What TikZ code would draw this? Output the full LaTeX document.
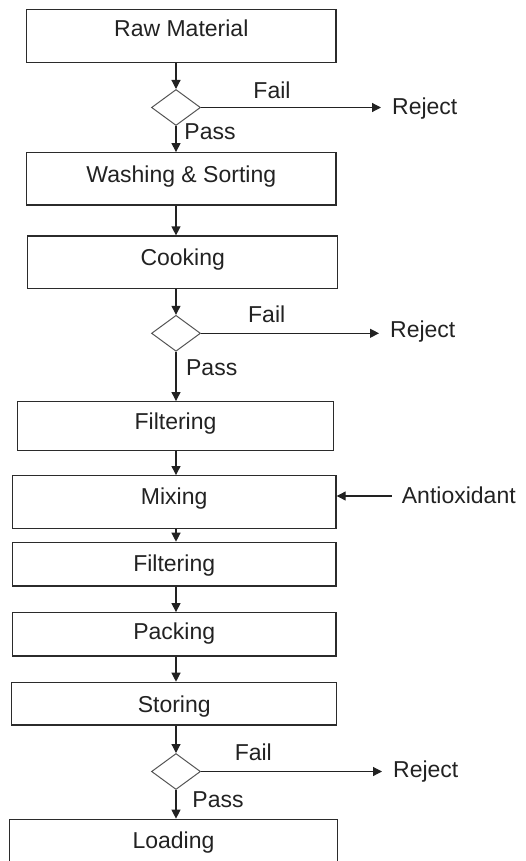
\documentclass[tikz,border=0pt]{standalone}
\usepackage{fontspec}
\setmainfont{Liberation Sans}
\usetikzlibrary{shapes.geometric,arrows.meta}
\definecolor{edge}{HTML}{2B2B2B}
\definecolor{ink}{HTML}{222222}
\definecolor{dgray}{HTML}{555555}
\begin{document}
\begin{tikzpicture}[x=1pt,y=-1pt,
  font=\fontsize{23}{27}\selectfont,
  stepbox/.style={draw=edge,line width=1.3pt,rectangle,inner sep=0pt},
  lbl/.style={text=ink,inner sep=0pt,anchor=base},
  check/.style={draw=dgray,line width=1pt,diamond,inner sep=0pt,minimum width=49pt,minimum height=36pt},
  side/.style={text=ink,inner ysep=0pt,inner xsep=11pt,anchor=base west},
  flow/.style={draw=ink,line width=1.2pt,-{Triangle[length=9pt,width=9pt]}}]
\useasboundingbox (0,0) rectangle (526,861);
\clip (0,0) rectangle (526,861);

% process boxes (centre, size) and their captions (baseline)
\node[stepbox,minimum width=309.3pt,minimum height=53pt] (b1) at (181.3,35.8) {};
\node[lbl] (t1) at (181.3,36.9) {Raw Material};
\node[stepbox,minimum width=309.3pt,minimum height=52.3pt] (b2) at (181.3,178.9) {};
\node[lbl] (t2) at (181.3,182.7) {Washing \& Sorting};
\node[stepbox,minimum width=310pt,minimum height=52.3pt] (b3) at (182.7,262.2) {};
\node[lbl] (t3) at (182.7,265) {Cooking};
\node[stepbox,minimum width=315.6pt,minimum height=49pt] (b4) at (175.5,426.2) {};
\node[lbl] (t4) at (175.5,429.5) {Filtering};
\node[stepbox,minimum width=323.7pt,minimum height=52.6pt] (b5) at (174.2,502) {};
\node[lbl] (t5) at (174.2,504.3) {Mixing};
\node[stepbox,minimum width=323.7pt,minimum height=43.7pt] (b6) at (174.2,564.2) {};
\node[lbl] (t6) at (174.2,571.7) {Filtering};
\node[stepbox,minimum width=323.7pt,minimum height=43.3pt] (b7) at (174.2,634.4) {};
\node[lbl] (t7) at (174.2,639) {Packing};
\node[stepbox,minimum width=325pt,minimum height=42.7pt] (b8) at (174.2,703.7) {};
\node[lbl] (t8) at (174.2,712) {Storing};
\node[stepbox,minimum width=328.4pt,minimum height=60pt] (b9) at (173.5,849.3) {};
\node[lbl] (t9) at (173.5,848.3) {Loading};

% quality checks
\node[check] (d1) at (176,107.5) {};
\node[check] (d2) at (176,333.3) {};
\node[check] (d3) at (176,771.5) {};

% rejected lots and the additive
\node[side] (r1) at (381,115) {Reject};
\node[side] (r2) at (379,337.3) {Reject};
\node[side] (r3) at (382,777.3) {Reject};
\node[text=ink,inner sep=0pt,anchor=base west] (ax) at (401.7,503.3) {Antioxidant};
\coordinate (axs) at (391.7,496);

% branch labels
\node[lbl] (f1) at (272,99) {Fail};
\node[lbl] (f2) at (266.7,322.7) {Fail};
\node[lbl] (f3) at (253.3,760.7) {Fail};
\node[lbl] (p1) at (210,139.3) {Pass};
\node[lbl] (p2) at (211.7,375.7) {Pass};
\node[lbl] (p3) at (218,807.3) {Pass};

% main flow
\draw[flow] (b1.south -| d1) -- (d1.north);
\draw[flow] (d1.south) -- (b2.north -| d1);
\draw[flow] (b2.south -| d1) -- (b3.north -| d1);
\draw[flow] (b3.south -| d2) -- (d2.north);
\draw[flow] (d2.south) -- (b4.north -| d2);
\draw[flow] (b4.south -| d2) -- (b5.north -| d2);
\draw[flow] (b5.south -| d2) -- (b6.north -| d2);
\draw[flow] (b6.south -| d2) -- (b7.north -| d2);
\draw[flow] (b7.south -| d3) -- (b8.north -| d3);
\draw[flow] (b8.south -| d3) -- (d3.north);
\draw[flow] (d3.south) -- (b9.north -| d3);

% failed checks
\draw[flow] (d1.east) -- (d1.east -| r1.west);
\draw[flow] (d2.east) -- (d2.east -| r2.west);
\draw[flow] (d3.east) -- (d3.east -| r3.west);

% antioxidant feed
\draw[flow] (axs) -- (axs -| b5.east);
\end{tikzpicture}
\end{document}
